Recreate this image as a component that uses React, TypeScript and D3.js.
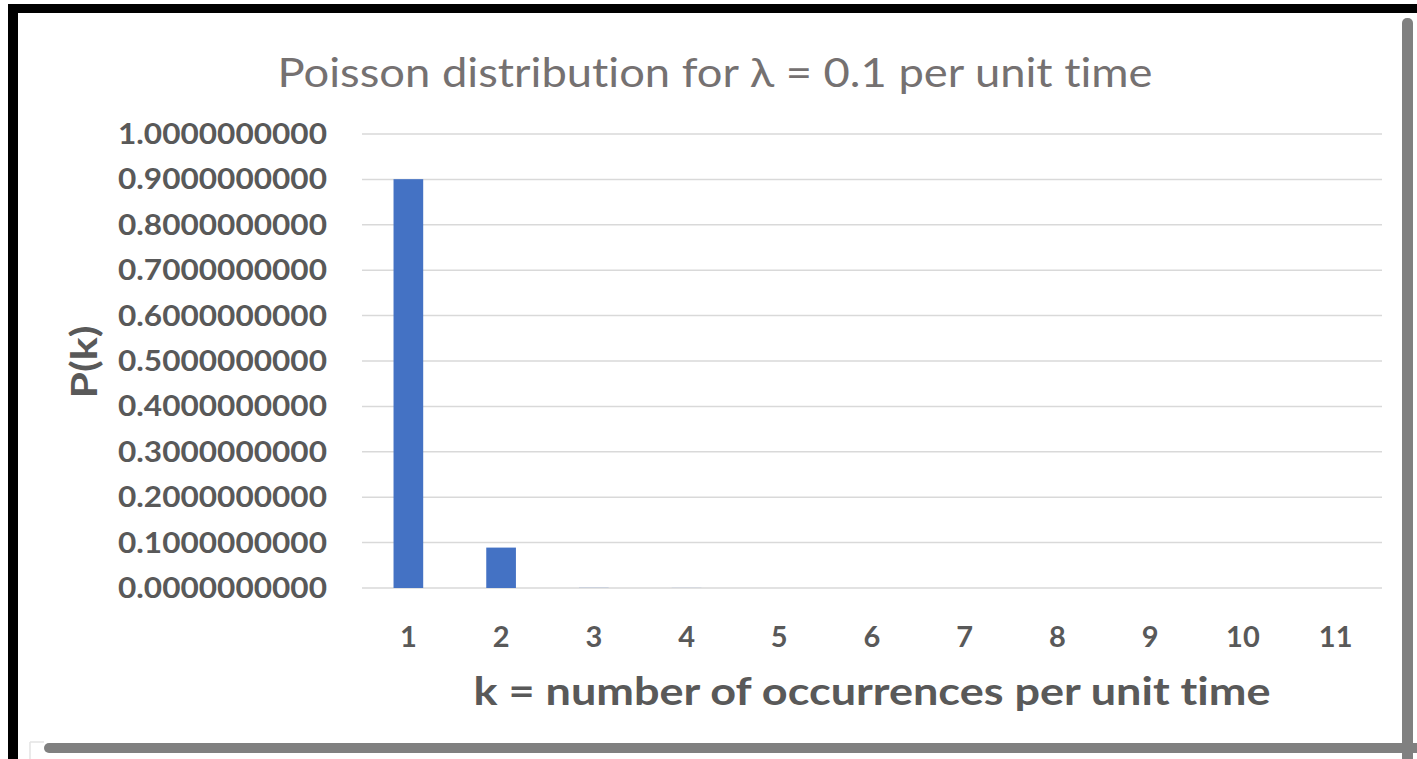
import React from "react";
import * as d3 from "d3";

const categories = ["1", "2", "3", "4", "5", "6", "7", "8", "9", "10", "11"];
const probabilities = [0.9005, 0.089, 0.0003, 0.00015, 0.0000038, 0.00000008, 0.0000000013, 0, 0, 0, 0];
const yTicks = [0, 0.1, 0.2, 0.3, 0.4, 0.5, 0.6, 0.7, 0.8, 0.9, 1.0];
const titleText = "Poisson distribution for λ = 0.1 per unit time";
const xTitleText = "k = number of occurrences per unit time";
const yTitleText = "P(k)";

const W = 1417;
const H = 759;
const FONT = "Lato, 'Open Sans', 'DejaVu Sans', sans-serif";
const noLig = { fontVariantLigatures: "none" as const, fontFeatureSettings: "'liga' 0, 'clig' 0" };

export default function App() {
  const x = d3
    .scaleBand<string>()
    .domain(categories)
    .range([362, 1382])
    .paddingInner(0.68)
    .paddingOuter(0.34);
  const y = d3.scaleLinear().domain([0, 1]).range([588, 134]);
  const fmt = d3.format(".10f");

  return (
    <svg
      width={W}
      height={H}
      style={{ position: "absolute", left: 0, top: 0, background: "#fff" }}
    >
      <rect x={0} y={0} width={W} height={H} fill="#fff" />
      {/* frame */}
      <rect x={8} y={4} width={W - 8} height={9} fill="#000" />
      <rect x={8} y={4} width={10} height={H - 4} fill="#000" />
      <rect x={1402} y={18} width={11} height={H - 18 + 10} rx={5} fill="#808080" />
      <rect x={44} y={743} width={W - 44 + 10} height={10} rx={5} fill="#808080" />
      <line x1={30} y1={742} x2={44} y2={742} stroke="#e3e3e3" strokeWidth={1.5} />
      <line x1={30} y1={742} x2={30} y2={H} stroke="#e3e3e3" strokeWidth={1.5} />

      {/* title */}
      <text
        x={715}
        y={87}
        textAnchor="middle"
        fontFamily={FONT}
        fontSize={40}
        fill="#757171"
        textLength={875}
        lengthAdjust="spacingAndGlyphs"
        style={noLig}
      >
        {titleText}
      </text>

      {/* gridlines */}
      {yTicks.map((t) => (
        <line
          key={"g" + t}
          x1={362}
          x2={1382}
          y1={y(t)}
          y2={y(t)}
          stroke="#d9d9d9"
          strokeWidth={1.5}
        />
      ))}

      {/* y tick labels */}
      {yTicks.map((t) => (
        <text
          key={"yt" + t}
          x={327}
          y={y(t) + 10}
          textAnchor="end"
          fontFamily={FONT}
          fontWeight="bold"
          fontSize={29}
          fill="#595959"
          textLength={209}
          lengthAdjust="spacingAndGlyphs"
        >
          {fmt(t)}
        </text>
      ))}

      {/* bars */}
      {categories.map((c, i) => {
        const v = probabilities[i];
        return (
          <rect
            key={"b" + c}
            x={x(c)}
            y={y(v)}
            width={x.bandwidth()}
            height={y(0) - y(v)}
            fill="#4472c4"
          />
        );
      })}

      {/* x tick labels */}
      {categories.map((c) => (
        <text
          key={"xt" + c}
          x={(x(c) as number) + x.bandwidth() / 2}
          y={647}
          textAnchor="middle"
          fontFamily={FONT}
          fontWeight="bold"
          fontSize={29}
          fill="#595959"
        >
          {c}
        </text>
      ))}

      {/* x title */}
      <text
        x={872}
        y={705}
        textAnchor="middle"
        fontFamily={FONT}
        fontWeight="bold"
        fontSize={39}
        fill="#595959"
        textLength={797}
        lengthAdjust="spacingAndGlyphs"
        style={noLig}
      >
        {xTitleText}
      </text>

      {/* y title */}
      <text
        transform="translate(97,362) rotate(-90)"
        textAnchor="middle"
        fontFamily={FONT}
        fontWeight="bold"
        fontSize={36}
        fill="#595959"
        textLength={73}
        lengthAdjust="spacingAndGlyphs"
      >
        {yTitleText}
      </text>
    </svg>
  );
}
